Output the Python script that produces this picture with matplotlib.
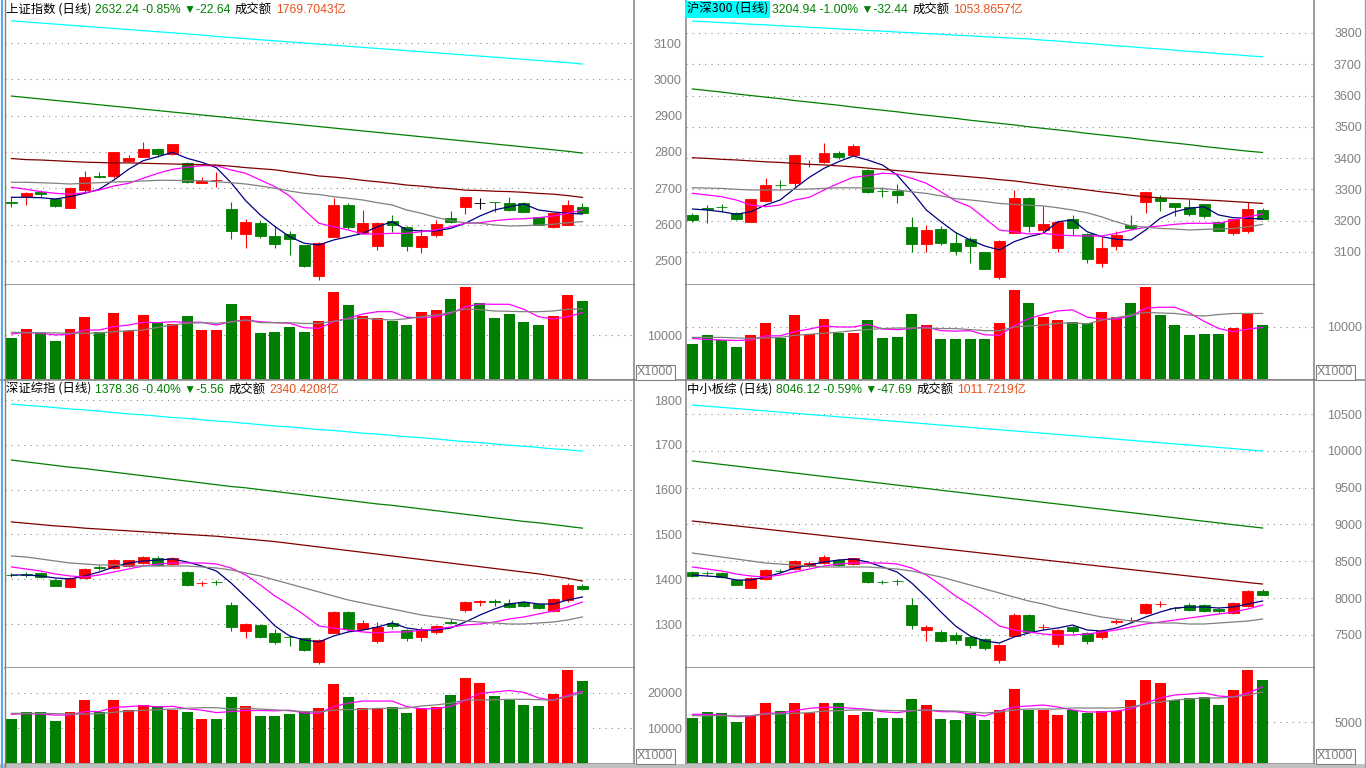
import matplotlib
matplotlib.use("Agg")
import matplotlib.pyplot as plt
import numpy as np
from matplotlib.lines import Line2D
from matplotlib.patches import Rectangle

plt.rcParams['font.family'] = ['Noto Sans CJK SC', 'DejaVu Sans']

W, H = 1366, 768
RED = '#FF0000'
GREEN = '#008000'
GREY = '#808080'
ORANGE = '#E8501C'
MA_COLORS = ['#000080', '#FF00FF', '#808080', '#800000', '#008000', '#00FFFF']
VMA_COLORS = ['#FF00FF', '#808080']
CJK = ['Noto Sans CJK SC', 'DejaVu Sans']
LAT = ['Liberation Sans', 'Noto Sans CJK SC', 'DejaVu Sans']

# ---------------- 上证指数 ----------------
sh_title = ['上证指数 (日线)', '2632.24 -0.85% ▼-22.64', '成交额', '1769.7043亿']
sh_open = [2661, 2679.7, 2690.7, 2669.8, 2646.7, 2695.4, 2733, 2734.8, 2775.2, 2787, 2808.3, 2794.5, 2770.6, 2715.5, 2723, 2643.1, 2575.1, 2604.6, 2568.8, 2574.3, 2544, 2459.5, 2566, 2654.1, 2576.2, 2541.3, 2610, 2593.6, 2539.4, 2572.4, 2617.5, 2649.5, 2660.5, 2663, 2659.7, 2659.7, 2620.3, 2594.4, 2599.1, 2648.6]
sh_high = [2677, 2690.7, 2695.4, 2672.6, 2702.3, 2747.7, 2745.8, 2800, 2791.8, 2827.5, 2811.9, 2822, 2773.3, 2732, 2745.8, 2663.2, 2616.4, 2612.9, 2597.2, 2583.4, 2544, 2553.1, 2674.2, 2660.5, 2640.4, 2608.2, 2626.6, 2596.3, 2587.2, 2612.9, 2637.6, 2676.2, 2672.6, 2663, 2675.3, 2663.2, 2620.3, 2631.3, 2667.9, 2660.5]
sh_low = [2649.5, 2654, 2677, 2649.5, 2646.7, 2690.7, 2727.6, 2728.4, 2773.3, 2785.4, 2787, 2792.6, 2713.9, 2713.9, 2704.5, 2561.4, 2536.6, 2564.1, 2536.6, 2516.5, 2484.3, 2447.7, 2566, 2587.2, 2573.5, 2530.3, 2580.6, 2528.4, 2522.8, 2566.9, 2603.8, 2630.2, 2642.3, 2635.7, 2638.5, 2634, 2599.1, 2591.7, 2599.1, 2631.3]
sh_close = [2660, 2688, 2683.6, 2652.2, 2701, 2731.2, 2731, 2800, 2783.5, 2808.3, 2793.7, 2822, 2718.3, 2721, 2723.8, 2583.4, 2607.3, 2568.8, 2547.6, 2561.4, 2486.2, 2550.4, 2654.1, 2594.4, 2604.6, 2603.8, 2599.1, 2542.1, 2568.8, 2601.9, 2608.2, 2676.2, 2660.5, 2662, 2641.2, 2635.7, 2599.1, 2631.3, 2654.1, 2632.24]
sh_ma5 = [2675.3, 2675.3, 2674.2, 2670.6, 2677, 2686.3, 2697.4, 2722.9, 2752.4, 2776.1, 2787.1, 2799.2, 2782.7, 2771.7, 2756.8, 2715.5, 2665.9, 2626.6, 2594.6, 2566.9, 2548.7, 2544, 2557.8, 2566.9, 2576.2, 2594.4, 2608.2, 2585.3, 2582.6, 2582.6, 2590, 2603.8, 2623.9, 2640.4, 2649.5, 2656.9, 2640.4, 2634.9, 2631.3, 2629.4]
sh_ma10 = [2702.9, 2697.4, 2690.8, 2686.3, 2683.6, 2688, 2695.4, 2706.4, 2713.9, 2727.6, 2741.4, 2752.4, 2757.9, 2762.3, 2762.3, 2750.5, 2741.4, 2722.9, 2704.5, 2678.9, 2640.4, 2603.8, 2594.4, 2585.3, 2574.3, 2574.3, 2576.2, 2576.2, 2580.6, 2585.3, 2594.4, 2603.8, 2605.4, 2610.9, 2614.8, 2616.4, 2619.2, 2623.9, 2631.3, 2640.4]
sh_ma20 = [2716.6, 2716.6, 2715.5, 2713.9, 2711.9, 2713.9, 2715.5, 2717.4, 2718.3, 2720.2, 2722.1, 2722.1, 2721, 2721, 2718.3, 2715.5, 2711.9, 2706.4, 2700.1, 2692.7, 2686.3, 2683, 2677, 2672.6, 2667.9, 2660.5, 2654.1, 2640.4, 2631.3, 2620.3, 2610.9, 2605.4, 2603.8, 2599.1, 2596.3, 2597.2, 2599.1, 2601, 2605.4, 2608.2]
sh_ma60 = [2782, 2779, 2778, 2776, 2774, 2772, 2771, 2770, 2770, 2769, 2768, 2767, 2766, 2765, 2764, 2761, 2757, 2754, 2751, 2745, 2740, 2734, 2731, 2727, 2722, 2718, 2714, 2709, 2706, 2702, 2699, 2695, 2694, 2692, 2691, 2689, 2686, 2684, 2680, 2675]
sh_ma120 = [2954, 2950, 2946, 2942, 2938, 2934, 2930, 2926, 2922, 2918, 2914, 2910, 2906, 2902, 2898, 2894, 2890, 2886, 2882, 2878, 2874, 2870, 2866, 2862, 2858, 2854, 2850, 2846, 2842, 2838, 2834, 2830, 2826, 2822, 2818, 2814, 2810, 2806, 2802, 2797]
sh_ma250 = [3161, 3158, 3155, 3152, 3149, 3146, 3143, 3140, 3137, 3134, 3131, 3128, 3125, 3122, 3118, 3115, 3112, 3109, 3106, 3103, 3100, 3097, 3094, 3091, 3088, 3085, 3082, 3079, 3076, 3073, 3070, 3067, 3064, 3061, 3058, 3055, 3052, 3049, 3046, 3042]
sh_vol = [9390, 11360, 10610, 8640, 11360, 14170, 10610, 15000, 10910, 14620, 12660, 12580, 14390, 11140, 11140, 17050, 14390, 10530, 10760, 11890, 10760, 13250, 19840, 16890, 14390, 13860, 13250, 12340, 15300, 15750, 18180, 20980, 17200, 13940, 14840, 12960, 12340, 14390, 19090, 17800]
sh_vma5 = [10230, 10615, 10390, 10000, 10160, 11140, 11140, 11890, 12270, 12890, 12800, 13020, 12890, 12890, 12270, 13020, 13410, 13020, 12800, 12660, 11660, 11520, 13020, 13800, 14770, 15300, 15300, 14020, 13930, 14160, 14930, 16430, 17050, 16980, 16980, 15840, 14160, 13640, 14160, 15070]
sh_vma10 = [10615, 10520, 10520, 10460, 10390, 10390, 10460, 10750, 10980, 11140, 11750, 12270, 12660, 12800, 12660, 12960, 13410, 12800, 12800, 12800, 12620, 12660, 13120, 13640, 13800, 13570, 13410, 13710, 14160, 14550, 15160, 15910, 15750, 15460, 15390, 15300, 15300, 15460, 15840, 15910]

# ---------------- 沪深300 ----------------
hs_title = ['沪深300 (日线)', '3204.94 -1.00% ▼-32.44', '成交额', '1053.8657亿']
hs_open = [3217.9, 3239.3, 3243, 3223.3, 3196.5, 3263.7, 3314.5, 3321.2, 3381, 3388.4, 3417.2, 3409.8, 3361.8, 3295, 3295.6, 3178.6, 3125.2, 3173.2, 3129.3, 3141.2, 3099.6, 3020.6, 3161.3, 3273.3, 3170, 3111.4, 3205.1, 3157.2, 3065.4, 3118.8, 3186, 3260.5, 3272.3, 3256.3, 3242.5, 3253.1, 3194.6, 3161.3, 3167.7, 3233.9]
hs_high = [3225.3, 3249.9, 3253.1, 3228.5, 3269.1, 3335.3, 3329.9, 3409.8, 3393.8, 3449.1, 3422.6, 3445, 3364, 3308.4, 3317.1, 3210.6, 3186, 3182.8, 3164.5, 3148.5, 3099.6, 3138, 3297.9, 3276.5, 3246.7, 3196.5, 3217.9, 3161.3, 3148.5, 3167.7, 3217.9, 3292.4, 3281.9, 3256.3, 3269.1, 3253.1, 3194.6, 3205.1, 3258.5, 3241.3]
hs_low = [3196.5, 3193.3, 3228.5, 3201.9, 3196.5, 3260.5, 3303.3, 3308.4, 3372.4, 3385.2, 3396, 3409.8, 3287.3, 3276.5, 3257.3, 3098.6, 3098.6, 3122, 3090, 3065.4, 3046.2, 3012.3, 3161.3, 3164.5, 3161.3, 3100.6, 3154, 3065.4, 3052.6, 3106, 3172.2, 3225.3, 3231.7, 3215.7, 3215.7, 3209.3, 3167.7, 3154, 3161.3, 3205.1]
hs_close = [3201.9, 3238, 3242, 3206.1, 3269.1, 3313.9, 3313.5, 3409.8, 3382, 3417.2, 3404.4, 3438.6, 3292.4, 3294, 3282.8, 3125.2, 3170, 3127.4, 3103.8, 3119.7, 3046.2, 3134.8, 3273.3, 3182.8, 3189.2, 3196.5, 3175.4, 3078.2, 3113.4, 3154, 3177.3, 3292.4, 3263.7, 3243.5, 3221.1, 3215.7, 3167.7, 3205.1, 3237.1, 3204.94]
hs_ma5 = [3237.1, 3233.9, 3228.5, 3220.2, 3228.5, 3249.9, 3265.9, 3303.3, 3338.5, 3367.3, 3388.4, 3406.6, 3393.8, 3377.8, 3345.9, 3292.4, 3233.9, 3196.5, 3161.9, 3138, 3118.8, 3106, 3132.5, 3148.5, 3159.4, 3196.5, 3201.9, 3164.5, 3148.5, 3140.2, 3138, 3170, 3207.4, 3228.5, 3239.4, 3244.5, 3217.9, 3209.3, 3207.4, 3205.1]
hs_ma10 = [3287.3, 3281.9, 3276.5, 3265.9, 3249.9, 3244.5, 3249.9, 3265.9, 3274.5, 3297.9, 3319.3, 3338.5, 3343.6, 3351.3, 3349, 3335.3, 3319.3, 3292.4, 3262.7, 3244.5, 3207.4, 3170, 3164.5, 3157.2, 3159.4, 3154, 3151.7, 3150.8, 3150.8, 3159.4, 3170, 3178.6, 3182.8, 3188.2, 3191.4, 3191.4, 3191.4, 3201.9, 3212.5, 3221.1]
hs_ma20 = [3305, 3304, 3303, 3300, 3298, 3298, 3298, 3300, 3301, 3303, 3305, 3305, 3304, 3303, 3298, 3292, 3287, 3279, 3270, 3266, 3261, 3255, 3252, 3249, 3247, 3241, 3234, 3225, 3212, 3196, 3183, 3179, 3175, 3173, 3170, 3172, 3173, 3175, 3180, 3188]
hs_ma60 = [3401, 3399, 3396, 3394, 3391, 3388, 3386, 3383, 3380, 3378, 3375, 3372, 3368, 3364, 3360, 3356, 3352, 3348, 3344, 3340, 3336, 3331, 3327, 3321, 3315, 3309, 3304, 3298, 3292, 3287, 3281, 3276, 3273, 3271, 3269, 3266, 3264, 3261, 3258, 3255]
hs_ma120 = [3621, 3616, 3611, 3605, 3600, 3595, 3590, 3584, 3579, 3574, 3569, 3563, 3558, 3553, 3548, 3542, 3537, 3532, 3527, 3521, 3516, 3511, 3506, 3500, 3495, 3490, 3485, 3479, 3474, 3469, 3464, 3458, 3453, 3448, 3443, 3437, 3432, 3427, 3422, 3418]
hs_ma250 = [3838, 3836, 3833, 3831, 3828, 3826, 3823, 3821, 3818, 3816, 3813, 3811, 3808, 3806, 3803, 3801, 3798, 3796, 3793, 3791, 3788, 3786, 3783, 3781, 3777, 3774, 3770, 3767, 3763, 3759, 3756, 3752, 3749, 3745, 3741, 3738, 3734, 3731, 3727, 3724]
hs_vol = [6730, 8461, 7500, 6154, 8461, 10769, 7884, 12307, 8653, 11538, 8846, 8846, 11346, 7884, 8077, 12500, 10384, 7692, 7692, 7692, 7692, 10769, 17115, 14615, 11923, 11346, 10961, 10769, 12884, 11923, 14615, 17692, 12307, 10384, 8461, 8653, 8653, 9807, 12500, 10384]
hs_vma5 = [7800, 7600, 7500, 7400, 7500, 8300, 8300, 9100, 9600, 10200, 10000, 10000, 10500, 9600, 9500, 9700, 10000, 9300, 9200, 9300, 8500, 8400, 10200, 11600, 12400, 13100, 13300, 11900, 11500, 11500, 12100, 13600, 13800, 13800, 12700, 11100, 9700, 9100, 9600, 9900]
hs_vma10 = [8000, 8000, 8000, 7900, 7800, 7900, 8000, 8400, 8600, 8800, 9000, 9300, 9500, 9700, 9800, 9800, 9800, 9700, 9700, 9500, 9300, 9300, 10000, 10200, 10400, 10700, 10800, 10600, 11300, 11800, 12300, 12800, 12700, 12600, 12300, 12100, 12400, 12600, 12600, 12600]

# ---------------- 深证综指 ----------------
sz_title = ['深证综指 (日线)', '1378.36 -0.40% ▼-5.56', '成交额', '2340.4208亿']
sz_open = [1410, 1411, 1413, 1398, 1383, 1402, 1427, 1424, 1430, 1436, 1448, 1434, 1416, 1391, 1394, 1342, 1285, 1297, 1280, 1272, 1268, 1215, 1280, 1326, 1288, 1262, 1303, 1286, 1270, 1282, 1305, 1331, 1350, 1352, 1348, 1349, 1345, 1329, 1353, 1386]
sz_high = [1414, 1416, 1416, 1400, 1404, 1425, 1432, 1445, 1444, 1452, 1452, 1450, 1418, 1397, 1398, 1350, 1302, 1300, 1290, 1276, 1268, 1266, 1330, 1330, 1310, 1305, 1310, 1290, 1293, 1298, 1312, 1352, 1354, 1355, 1356, 1352, 1345, 1358, 1392, 1390]
sz_low = [1404, 1405, 1403, 1385, 1381, 1400, 1421, 1422, 1428, 1434, 1430, 1432, 1385, 1386, 1388, 1285, 1268, 1268, 1256, 1250, 1240, 1210, 1280, 1285, 1286, 1258, 1290, 1262, 1262, 1278, 1300, 1326, 1340, 1340, 1336, 1338, 1334, 1327, 1350, 1376]
sz_close = [1409, 1410, 1405, 1386, 1402, 1423, 1426, 1444, 1442, 1450, 1432, 1448, 1387, 1392, 1393, 1293, 1300, 1271, 1260, 1270, 1242, 1264, 1326, 1288, 1303, 1294, 1296, 1269, 1289, 1296, 1303, 1350, 1351, 1350, 1339, 1340, 1336, 1357, 1388, 1378.36]
sz_ma5 = [1409.5, 1409.5, 1407.3, 1402.8, 1400.6, 1407.3, 1416.2, 1427.4, 1436.3, 1440.7, 1443, 1445.2, 1438.5, 1429.6, 1418.4, 1391.7, 1360.4, 1329.1, 1295.7, 1273.3, 1264.4, 1260, 1273.3, 1282.3, 1286.7, 1293.4, 1302.4, 1291.2, 1286.7, 1286.7, 1291.2, 1304.6, 1320.2, 1333.6, 1344.8, 1349.2, 1344.8, 1344.8, 1353.7, 1360.4]
sz_ma10 = [1427.4, 1422.9, 1418.4, 1411.7, 1407.3, 1405.1, 1409.5, 1416.2, 1422.9, 1429.6, 1434.1, 1436.3, 1436.3, 1436.3, 1434.1, 1425.1, 1409.5, 1387.2, 1362.6, 1342.5, 1320.2, 1295.7, 1291.2, 1286.7, 1282.3, 1280.1, 1282.3, 1282.3, 1286.7, 1288.9, 1293.4, 1297.9, 1300.1, 1304.6, 1311.3, 1315.8, 1322.5, 1329.1, 1338.1, 1349.2]
sz_ma20 = [1451.9, 1449.7, 1445.2, 1440.7, 1436.3, 1434.1, 1431.8, 1431.8, 1429.6, 1429.6, 1429.6, 1429.6, 1429.6, 1427.4, 1425.1, 1420.7, 1414, 1407.3, 1398.4, 1389.4, 1380.5, 1371.6, 1362.6, 1353.7, 1347, 1340.3, 1333.6, 1326.9, 1320.2, 1315.8, 1311.3, 1306.8, 1304.6, 1302.4, 1300.1, 1300.1, 1302.4, 1304.6, 1309.1, 1315.8]
sz_ma60 = [1528, 1525, 1522, 1519, 1517, 1514, 1512, 1510, 1508, 1506, 1504, 1502, 1500, 1498, 1496, 1493, 1490, 1487, 1484, 1480, 1476, 1472, 1468, 1464, 1460, 1456, 1452, 1448, 1444, 1440, 1436, 1432, 1428, 1424, 1420, 1416, 1412, 1407, 1402, 1396]
sz_ma120 = [1666, 1662, 1658, 1654, 1650, 1647, 1643, 1639, 1635, 1631, 1627, 1623, 1619, 1615, 1611, 1607, 1604, 1600, 1596, 1592, 1588, 1584, 1580, 1576, 1572, 1568, 1565, 1561, 1557, 1553, 1549, 1545, 1541, 1537, 1533, 1529, 1526, 1522, 1518, 1514]
sz_ma250 = [1791, 1788, 1786, 1783, 1780, 1778, 1775, 1772, 1769, 1767, 1764, 1761, 1759, 1756, 1753, 1751, 1748, 1745, 1742, 1740, 1737, 1734, 1732, 1729, 1726, 1724, 1721, 1718, 1716, 1713, 1710, 1707, 1705, 1702, 1699, 1697, 1694, 1691, 1689, 1686]
sz_vol = [12571, 14571, 14571, 12000, 14571, 18000, 14571, 18000, 15142, 16571, 16285, 15142, 14571, 12571, 12571, 18856, 16285, 13428, 13428, 14000, 14571, 15714, 22570, 18856, 15714, 15714, 16000, 14285, 15714, 16000, 19428, 24285, 22856, 19142, 18000, 16571, 16285, 19713, 26570, 23427]
sz_vma5 = [13900, 14100, 14000, 13700, 13700, 14700, 14700, 15900, 16100, 16400, 16000, 16200, 15500, 15100, 14400, 14700, 15000, 15000, 14900, 15100, 14300, 14200, 16100, 17100, 17700, 17700, 17700, 16100, 15500, 15500, 16200, 17900, 19900, 20300, 20700, 20200, 18600, 17900, 19400, 20500]
sz_vma10 = [14200, 14200, 14200, 14100, 14000, 14000, 14100, 14500, 14800, 15100, 15200, 15400, 15600, 15800, 15800, 15400, 15700, 15400, 15200, 14900, 14700, 14600, 15100, 15300, 15300, 15600, 15600, 15700, 16300, 16600, 17100, 18000, 18000, 18100, 18200, 18200, 18100, 17900, 19000, 20000]

# ---------------- 中小板综 ----------------
zx_title = ['中小板综 (日线)', '8046.12 -0.59% ▼-47.69', '成交额', '1011.7219亿']
zx_open = [8353, 8342, 8340, 8245, 8140, 8265, 8370, 8393, 8435, 8476, 8516, 8462, 8353, 8222, 8235, 7905, 7565, 7538, 7498, 7470, 7443, 7157, 7484, 7769, 7600, 7375, 7606, 7525, 7470, 7680, 7700, 7796, 7915, 7870, 7905, 7905, 7850, 7796, 7891, 8090]
zx_high = [8370, 8370, 8350, 8260, 8280, 8400, 8395, 8510, 8500, 8590, 8530, 8550, 8360, 8250, 8260, 8000, 7640, 7560, 7540, 7480, 7450, 7380, 7790, 7780, 7650, 7580, 7640, 7540, 7580, 7720, 7740, 7930, 7960, 7880, 7930, 7920, 7860, 7940, 8110, 8120]
zx_low = [8290, 8300, 8270, 8170, 8130, 8250, 8340, 8380, 8420, 8460, 8430, 8450, 8200, 8190, 8180, 7580, 7420, 7400, 7380, 7320, 7300, 7120, 7480, 7520, 7560, 7340, 7520, 7380, 7440, 7650, 7680, 7780, 7880, 7830, 7820, 7810, 7800, 7780, 7880, 8040]
zx_close = [8299, 8335, 8285, 8177, 8272, 8380, 8362, 8502, 8476, 8557, 8448, 8544, 8217, 8215, 8228, 7633, 7606, 7416, 7429, 7361, 7320, 7361, 7769, 7538, 7610, 7565, 7552, 7416, 7552, 7690, 7705, 7918, 7925, 7860, 7837, 7823, 7823, 7932, 8095, 8046.12]
zx_ma5 = [8312.5, 8298.9, 8285.3, 8244.5, 8244.5, 8285.3, 8339.6, 8407.6, 8448.3, 8489.1, 8516.3, 8529.9, 8489.1, 8421.2, 8353.2, 8203.8, 8013.6, 7809.8, 7619.5, 7483.7, 7415.7, 7388.6, 7470.1, 7524.6, 7565.2, 7592.4, 7633.1, 7565.2, 7551.6, 7592.4, 7660.3, 7741.8, 7809.8, 7864.1, 7877.7, 7877.7, 7864.1, 7877.7, 7918.5, 7959.2]
zx_ma10 = [8421.2, 8394, 8366.8, 8326.1, 8298.9, 8285.3, 8312.5, 8353.2, 8394, 8434.8, 8462, 8475.5, 8475.5, 8475.5, 8462, 8407.6, 8312.5, 8176.6, 8027.1, 7904.9, 7769, 7619.5, 7565.2, 7538, 7510.8, 7497.3, 7497.3, 7510.8, 7538, 7565.2, 7606, 7646.7, 7673.9, 7701.1, 7728.3, 7755.4, 7782.6, 7809.8, 7850.5, 7904.9]
zx_ma20 = [8611.4, 8584.2, 8557, 8529.9, 8502.7, 8475.5, 8462, 8448.3, 8434.8, 8421.2, 8421.2, 8421.2, 8421.2, 8407.6, 8394, 8366.8, 8326.1, 8285.3, 8231, 8176.6, 8122.3, 8067.9, 8013.6, 7959.2, 7918.5, 7864.1, 7823.3, 7782.6, 7741.8, 7714.6, 7687.5, 7673.9, 7660.3, 7660.3, 7646.7, 7646.7, 7660.3, 7673.9, 7687.5, 7714.6]
zx_ma60 = [9046, 9024, 9002, 8980, 8958, 8936, 8914, 8892, 8870, 8848, 8826, 8804, 8782, 8760, 8738, 8716, 8694, 8672, 8650, 8628, 8606, 8584, 8562, 8540, 8518, 8496, 8474, 8452, 8430, 8408, 8386, 8364, 8342, 8320, 8298, 8276, 8254, 8232, 8210, 8190]
zx_ma120 = [9862, 9839, 9815, 9792, 9768, 9745, 9722, 9698, 9675, 9651, 9628, 9605, 9581, 9558, 9534, 9511, 9488, 9464, 9441, 9417, 9394, 9371, 9347, 9324, 9300, 9277, 9254, 9230, 9207, 9183, 9160, 9137, 9113, 9090, 9066, 9043, 9020, 8996, 8973, 8951]
zx_ma250 = [10622, 10606, 10590, 10574, 10558, 10542, 10526, 10510, 10494, 10478, 10462, 10446, 10430, 10414, 10398, 10382, 10366, 10350, 10334, 10318, 10302, 10286, 10270, 10254, 10238, 10222, 10206, 10190, 10174, 10158, 10142, 10126, 10110, 10094, 10078, 10062, 10046, 10030, 10013, 9997]
zx_vol = [5527, 6259, 6137, 5039, 5771, 7357, 6344, 7357, 6063, 7357, 7357, 5856, 6259, 5527, 5527, 7808, 7076, 5368, 5283, 6100, 5246, 6466, 9028, 6466, 6466, 5856, 6466, 6100, 6344, 6344, 7686, 10126, 9760, 7686, 7930, 8052, 7076, 8906, 11346, 10126]
zx_vma5 = [5941, 5941, 5856, 5649, 5734, 6063, 6100, 6381, 6673, 6795, 6795, 6673, 6551, 6259, 6137, 6381, 6466, 6259, 6259, 5978, 5734, 6344, 6832, 6954, 7076, 6832, 6466, 6222, 6222, 6344, 6588, 7320, 7930, 8296, 8418, 8540, 8174, 8052, 8540, 9272]
zx_vma10 = [5771, 5771, 5771, 5734, 5771, 5978, 5978, 6063, 6137, 6344, 6381, 6466, 6466, 6430, 6381, 6381, 6466, 6381, 6344, 6222, 6100, 6222, 6466, 6588, 6588, 6588, 6710, 6710, 6710, 6710, 6832, 7198, 7442, 7686, 7808, 7930, 7930, 8052, 8296, 8662]

fig = plt.figure(figsize=(W / 100, H / 100), dpi=100)
fig.patch.set_facecolor('white')


def box(x0, y0, x1, y1):
    # pixel box -> axes
    return fig.add_axes([x0 / W, 1 - y1 / H, (x1 - x0) / W, (y1 - y0) / H])


def style(ax, ylim, ticks, left_spine):
    ax.set_facecolor('white')
    ax.set_xlim(-0.44, 42.52)
    ax.set_ylim(*ylim)
    ax.set_xticks([])
    ax.yaxis.tick_right()
    ax.set_yticks(ticks, labels=[str(t) for t in ticks])
    ax.tick_params(axis='y', length=0, pad=34.5, labelsize=9, labelcolor=GREY,
                   labelfontfamily='Liberation Sans')
    plt.setp(ax.get_yticklabels(), ha='right')
    ax.grid(axis='y', color=GREY, linestyle=(0, (1, 5)), linewidth=0.75)
    ax.set_axisbelow(True)
    for s in ax.spines.values():
        s.set_color(GREY)
        s.set_linewidth(1.1)
    ax.spines['top'].set_visible(False)
    ax.spines['left'].set_visible(left_spine)


def panel(x0, x1, y0, ym, y1, o, h, l, c, mas, vol, vmas, plim, pticks, vlim, vticks,
          left_spine, title, selected=False):
    x = np.arange(len(o))
    o, h, l, c = map(np.asarray, (o, h, l, c))
    col = np.where(c > o, RED, np.where(c < o, GREEN, 'black'))
    ax = box(x0, y0, x1, ym)
    style(ax, plim, pticks, left_spine)
    ax.vlines(x, l, h, colors=col, linewidth=0.8, zorder=2)
    ax.bar(x, np.abs(c - o), 0.75, bottom=np.minimum(o, c), color=col, edgecolor=col,
           linewidth=0.6, zorder=3)
    for m, mc in zip(mas, MA_COLORS):
        ax.plot(x, m, color=mc, linewidth=0.9, zorder=4)

    av = box(x0, ym, x1, y1)
    style(av, vlim, vticks, left_spine)
    vcol = np.where(c > o, RED, GREEN)
    av.bar(x, vol, 0.75, color=vcol, zorder=3)
    for m, mc in zip(vmas, VMA_COLORS):
        av.plot(x, m, color=mc, linewidth=0.9, zorder=4)

    # title pieces: name, change, 成交额, amount
    r = fig.canvas.get_renderer()
    tx = x0 + 1
    specs = [('black', CJK, 8.9), (GREEN, LAT, 8.7), ('black', CJK, 8.9), (ORANGE, LAT, 8.7)]
    for i, (txt, (tc, fam, fs)) in enumerate(zip(title, specs)):
        t = fig.text(tx / W, 1 - (y0 + 13) / H, txt, color=tc, fontsize=fs, va='baseline',
                     ha='left', family=fam)
        if i == 0 and selected:
            t.set_bbox(dict(facecolor='#00FFFF', edgecolor='none', pad=1.5))
        tx = t.get_window_extent(r).x1 + 4

    # X1000 box
    fig.text((x1 + 3) / W, 1 - (y1 - 8) / H, 'X1000', color=GREY, fontsize=9, va='center', ha='left',
             family='Liberation Sans',
             bbox=dict(boxstyle='square,pad=0.12', facecolor='white', edgecolor=GREY, linewidth=0.8))


panel(5, 634, 0, 285, 380, sh_open, sh_high, sh_low, sh_close,
      [sh_ma5, sh_ma10, sh_ma20, sh_ma60, sh_ma120, sh_ma250],
      sh_vol, [sh_vma5, sh_vma10], (2433.9, 3218.4), [2500, 2600, 2700, 2800, 2900, 3000, 3100],
      (-227, 21366), [10000], False, sh_title)
panel(686, 1314, 0, 285, 380, hs_open, hs_high, hs_low, hs_close,
      [hs_ma5, hs_ma10, hs_ma20, hs_ma60, hs_ma120, hs_ma250],
      hs_vol, [hs_vma5, hs_vma10], (2994.1, 3905.5), [3100, 3200, 3300, 3400, 3500, 3600, 3700, 3800],
      (-192, 18076), [10000], True, hs_title, selected=True)
panel(5, 634, 380, 668, 764, sz_open, sz_high, sz_low, sz_close,
      [sz_ma5, sz_ma10, sz_ma20, sz_ma60, sz_ma120, sz_ma250],
      sz_vol, [sz_vma5, sz_vma10], (1201.9, 1844.7), [1300, 1400, 1500, 1600, 1700, 1800],
      (-285, 27142), [10000, 20000], False, sz_title)
panel(686, 1314, 380, 668, 764, zx_open, zx_high, zx_low, zx_close,
      [zx_ma5, zx_ma10, zx_ma20, zx_ma60, zx_ma120, zx_ma250],
      zx_vol, [zx_vma5, zx_vma10], (7049, 10962), [7500, 8000, 8500, 9000, 9500, 10000, 10500],
      (-122, 11590), [5000], True, zx_title)

# frame lines
fig.add_artist(Line2D([0, 1], [1 - 380.5 / H] * 2, color=GREY, linewidth=1.1))
fig.add_artist(Line2D([1.5 / W] * 2, [0, 1], color='#5AA8E8', linewidth=1.5))
fig.add_artist(Line2D([4.5 / W] * 2, [0, 1], color=GREY, linewidth=1.0))
fig.add_artist(Line2D([1365 / W] * 2, [0, 1], color='#A0A0A0', linewidth=1.0))
fig.add_artist(Rectangle((0, 0), 1, 4 / H, transform=fig.transFigure, facecolor='#C0C0C0',
                         edgecolor='none'))

fig.savefig('out.png', dpi=100)
